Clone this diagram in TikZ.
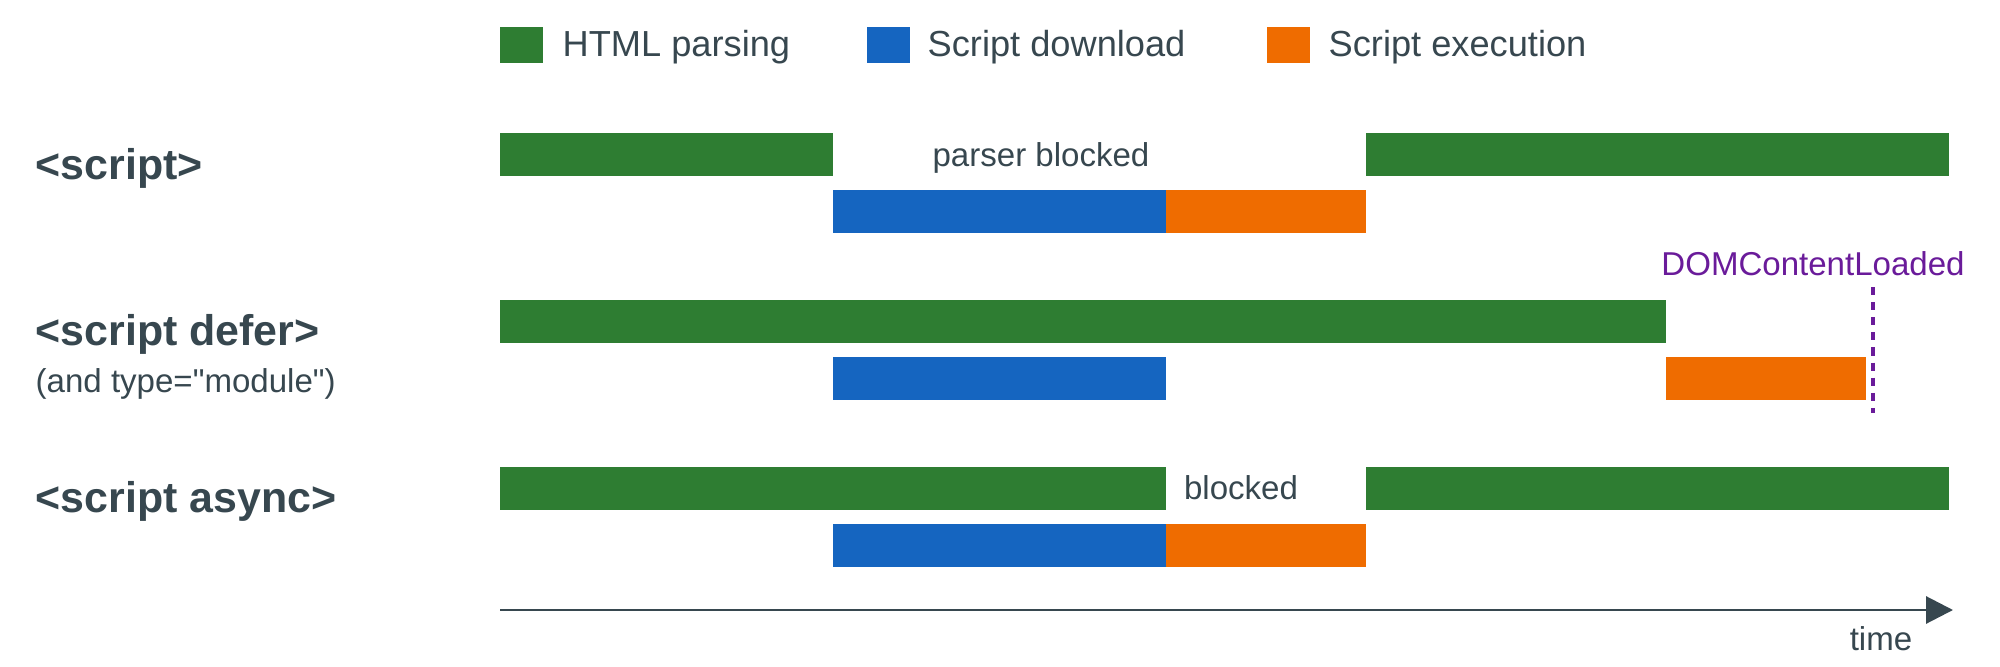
\documentclass[tikz,border=0pt]{standalone}
\usepackage{fontspec}
\setmainfont{Liberation Sans}
\newfontfamily\keepquotes{Liberation Sans}
\usetikzlibrary{arrows.meta}
\definecolor{parsegreen}{HTML}{2E7D32}
\definecolor{loadblue}{HTML}{1565C0}
\definecolor{runorange}{HTML}{EF6C00}
\definecolor{dompurple}{HTML}{6A1B9A}
\definecolor{inkgrey}{HTML}{37474F}
\begin{document}
\begin{tikzpicture}[x=0.01cm,y=-0.01cm,>={Triangle[length=2.7mm,width=2.7mm]},
  parse/.style={fill=parsegreen},
  fetch/.style={fill=loadblue},
  run/.style={fill=runorange},
  tag/.style={font=\fontsize{12.2}{14}\selectfont\bfseries,text=inkgrey,anchor=base west,inner sep=0pt},
  note/.style={font=\fontsize{9.4}{11}\selectfont,text=inkgrey,anchor=base,inner sep=0pt},
  key/.style={font=\fontsize{10.3}{12}\selectfont,text=inkgrey,anchor=base west,inner sep=0pt}]

\useasboundingbox (0,0) rectangle (2000,667);

% legend
\fill [parse] (500,27) rectangle (543,63);
\node [key] (k0) at (562,57) {HTML parsing};
\fill [fetch] (867,27) rectangle (910,63);
\node [key] (k1) at (927,57) {Script download};
\fill [run] (1267,27) rectangle (1310,63);
\node [key] (k2) at (1328,57) {Script execution};

% <script>
\node [tag] (l0) at (35,180) {<script>};
\fill [parse] (500,133) rectangle (833,176);
\fill [parse] (1366,133) rectangle (1949,176);
\fill [fetch] (833,190) rectangle (1166,233);
\fill [run] (1166,190) rectangle (1366,233);
\node [note] (b0) at (1041,167) {parser blocked};

% <script defer>
\node [tag] (l1) at (35,345) {<script defer>};
\node [note,anchor=base west] (l1m) at (35,392) {\keepquotes (and type="module")};
\fill [parse] (500,300) rectangle (1666,343);
\fill [fetch] (833,357) rectangle (1166,400);
\fill [run] (1666,357) rectangle (1866,400);
\node [note,text=dompurple] (dcl) at (1813,275) {DOMContentLoaded};
\coordinate (d0) at (1873,287);
\coordinate (d1) at (1873,413);
\draw [dompurple,line width=1.1pt,dash pattern=on 2.3pt off 2pt] (d0) -- (d1);

% <script async>
\node [tag] (l2) at (35,512) {<script async>};
\fill [parse] (500,467) rectangle (1166,510);
\fill [parse] (1366,467) rectangle (1949,510);
\fill [fetch] (833,524) rectangle (1166,567);
\fill [run] (1166,524) rectangle (1366,567);
\node [note] (b2) at (1241,499) {blocked};

% time axis
\coordinate (t0) at (500,610);
\coordinate (t1) at (1953,610);
\draw [->,inkgrey,line width=0.85pt] (t0) -- (t1);
\node [note] (tl) at (1881,650) {time};

\end{tikzpicture}
\end{document}
